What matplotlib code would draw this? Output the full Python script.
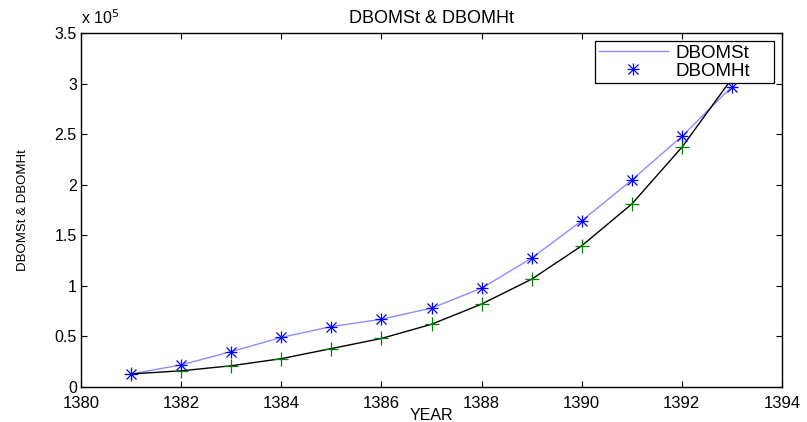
import matplotlib
matplotlib.use("Agg")
import matplotlib.pyplot as plt
from matplotlib.ticker import FuncFormatter, MultipleLocator
from matplotlib.legend_handler import HandlerTuple

# Yearly series (Iranian calendar years)
years = [1381, 1382, 1383, 1384, 1385, 1386, 1387, 1388, 1389, 1390, 1391, 1392, 1393]
dbomst = [12900, 21800, 35000, 49000, 59700, 67000, 78000, 97700,
          127400, 164300, 204600, 247800, 297000]
dbomht = [12900, 16000, 21000, 28000, 38000, 48000, 62000, 82000,
          106600, 139600, 180900, 237000, 305000]

plt.rcParams['font.family'] = ['Liberation Sans', 'DejaVu Sans']

fig = plt.figure(figsize=(8.07, 4.22), dpi=100)
ax = fig.add_axes([81 / 807, 1 - 387 / 422, (782 - 81) / 807, (387 - 33) / 422])

blue = '#0000ff'
st_line, = ax.plot(years, dbomst, color='#8c8cff', lw=1.0, zorder=2)
# asterisk marker built from a plus and a cross
st_plus, = ax.plot(years, dbomst, ls='none', marker='+', color=blue,
                   markersize=9, markeredgewidth=0.9, zorder=4)
st_x, = ax.plot(years, dbomst, ls='none', marker='x', color=blue,
                markersize=6.5, markeredgewidth=0.9, zorder=4)
ax.plot(years, dbomht, color='black', lw=1.0, zorder=2)
ax.plot(years, dbomht, ls='none', marker='+', color='#008000',
        markersize=10, markeredgewidth=0.9, zorder=3)

ax.set_xlim(1380, 1394)
ax.set_ylim(0, 350000)
ax.xaxis.set_major_locator(MultipleLocator(2))
ax.yaxis.set_major_locator(MultipleLocator(50000))
ax.yaxis.set_major_formatter(FuncFormatter(lambda v, p: f"{v / 1e5:g}"))

ax.tick_params(direction='in', length=4, width=0.8, top=True, right=True)
ax.tick_params(axis='x', labelsize=12, pad=6.5)
ax.tick_params(axis='y', labelsize=11.5, pad=3)
for s in ax.spines.values():
    s.set_linewidth(1.0)

ax.text(0.0, 1.016, r"x 10$^5$", transform=ax.transAxes, fontsize=11.5,
        ha='left', va='bottom')

ax.set_title("DBOMSt & DBOMHt", fontsize=13, pad=7)
ax.set_xlabel("YEAR", fontsize=11.5, labelpad=-2.5)
ax.set_ylabel("DBOMSt & DBOMHt", fontsize=9.5)
ax.yaxis.set_label_coords(-0.074, 0.5)

# legend box spans a fixed width in axes coordinates
x0 = (595 - 81) / 701
x1 = (774 - 81) / 701
top = (387 - 40.7) / 354
leg = ax.legend([st_line, (st_plus, st_x)], ["DBOMSt", "DBOMHt"],
                handler_map={tuple: HandlerTuple(ndivide=1)},
                loc='upper left', bbox_to_anchor=(x0, 0, x1 - x0, top),
                mode='expand', borderaxespad=0, fontsize=13.5, frameon=True,
                fancybox=False, edgecolor='black', framealpha=1,
                handlelength=3.7, borderpad=0.2, labelspacing=0.05,
                handletextpad=0.4)
leg.get_frame().set_linewidth(0.9)

fig.savefig("out.png", dpi=100)
